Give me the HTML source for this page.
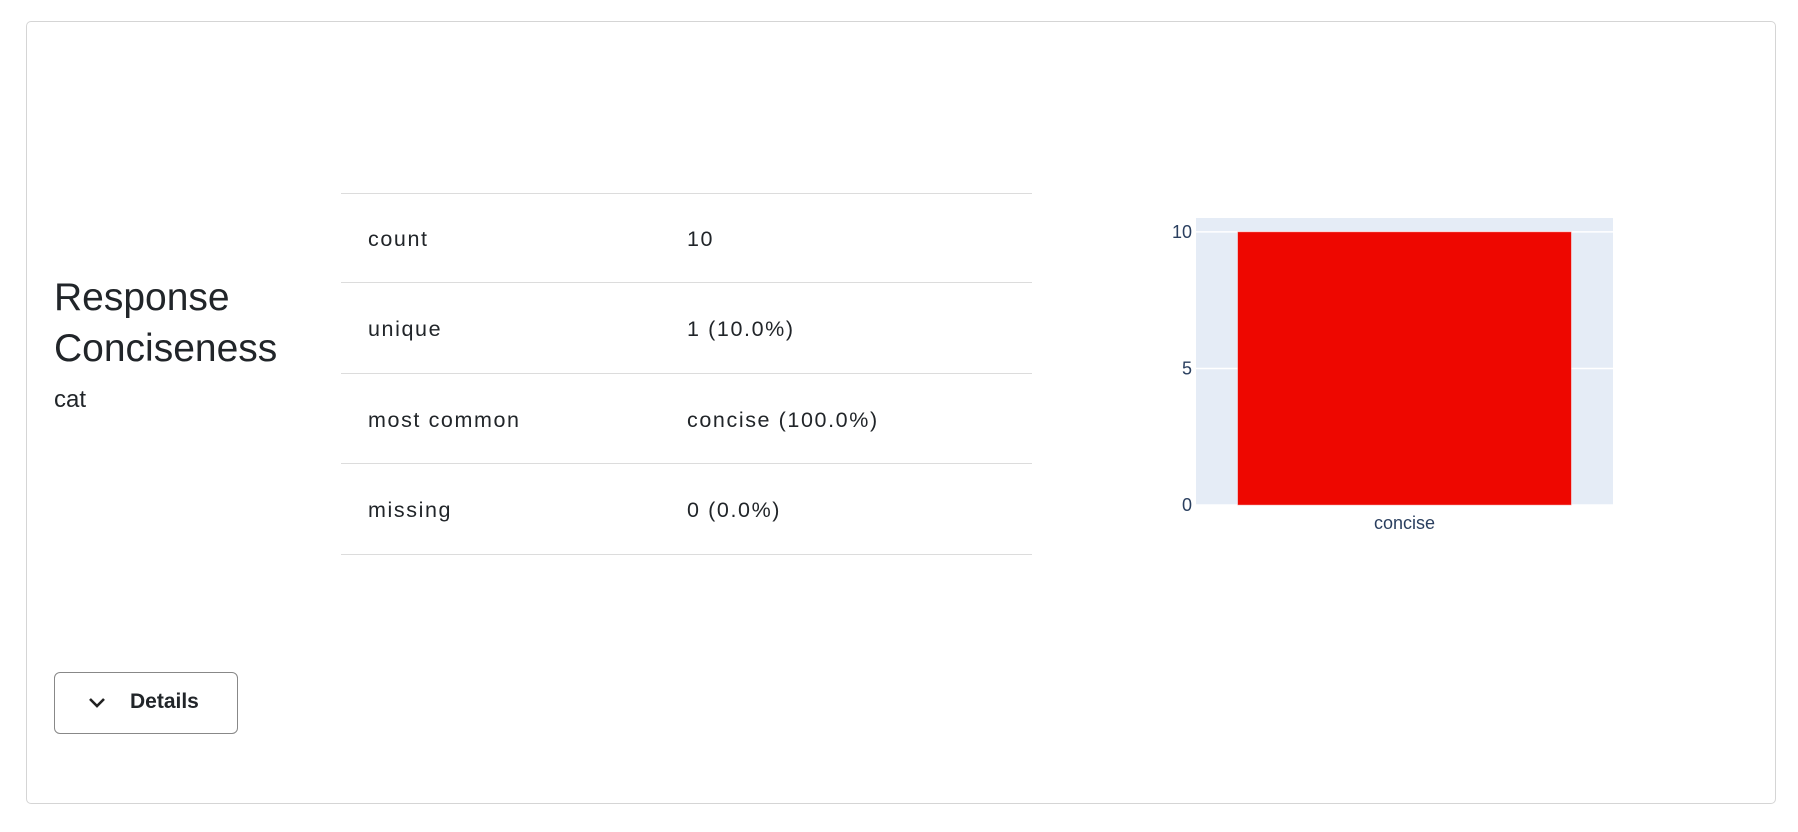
<!DOCTYPE html>
<html><head><meta charset="utf-8"><style>
body{margin:0;width:1798px;height:832px;background:#fff;font-family:"Liberation Sans",sans-serif;color:#212529;position:relative;overflow:hidden}
.card{position:absolute;left:26px;top:21px;width:1750px;height:783px;border:1px solid #d5d5d5;border-radius:5px;box-sizing:border-box}
.abs{position:absolute;white-space:nowrap}
.line{position:absolute;left:341px;width:691px;height:1px;background:#dcdcdc}
.cell{position:absolute;font-size:21.5px;letter-spacing:1.6px;white-space:nowrap}
.btn{position:absolute;left:54px;top:672px;width:184px;height:62px;border:1.5px solid #888;border-radius:6px;box-sizing:border-box;background:#fff}
</style></head><body>
<div class="card"></div>
<div class="abs" style="left:54px;top:272px;font-size:39px;line-height:51px">Response<br>Conciseness</div>
<div class="abs" style="left:54px;top:386px;font-size:24px">cat</div>

<div>
<div class="line" style="top:193px"></div>
<div class="line" style="top:282px"></div>
<div class="line" style="top:373px"></div>
<div class="line" style="top:463px"></div>
<div class="line" style="top:554px"></div>
<div class="cell" style="left:368px;top:227px">count</div>
<div class="cell" style="left:687px;top:227px">10</div>
<div class="cell" style="left:368px;top:317px">unique</div>
<div class="cell" style="left:687px;top:317px">1 (10.0%)</div>
<div class="cell" style="left:368px;top:408px">most common</div>
<div class="cell" style="left:687px;top:408px">concise (100.0%)</div>
<div class="cell" style="left:368px;top:498px">missing</div>
<div class="cell" style="left:687px;top:498px">0 (0.0%)</div>
</div>

<div class="btn">
<svg style="position:absolute;left:33px;top:24px" width="18" height="12" viewBox="0 0 18 12"><path d="M2 2 L9 9 L16 2" fill="none" stroke="#222" stroke-width="2.6"/></svg>
<span style="position:absolute;left:75px;top:17px;font-size:21px;font-weight:bold">Details</span>
</div>

<svg id="chart" style="position:absolute;left:0;top:0" width="1798" height="832"></svg>
<script>
const categories=["concise"];
const counts=[10];
const yTicks=[0,5,10];
const NS="http://www.w3.org/2000/svg";
const svg=document.getElementById('chart');
const L=1196,R=1613,T=218,B=505,yMax=10.51;
const y=v=>B-(v/yMax)*(B-T);
const bw=(R-L)/categories.length;
const x=i=>L+bw*i;
function mk(t,a){const e=document.createElementNS(NS,t);for(const k in a)e.setAttribute(k,a[k]);svg.appendChild(e);return e;}
const bg=mk('rect',{x:L,y:T,width:R-L,height:B-T,fill:'#e5ecf6'});


yTicks.forEach(t=>{
 const g=mk('line',{x1:L,x2:R,y1:y(t),y2:y(t),stroke:'#fff','stroke-width':1.5});
 
 
 const tx=mk('text',{x:L-4,y:y(t)+6,'text-anchor':'end','font-size':18,fill:'#2a3f5f','font-family':'Liberation Sans, sans-serif'});
 tx.textContent=t;
 
 
});
categories.forEach((c,i)=>{
 const x0=x(i)+bw*0.1, w=bw*0.8;
 const r=mk('rect',{x:x0,y:y(counts[i]),width:w,height:y(0)-y(counts[i]),fill:'#ee0700',stroke:'#f4a0a0','stroke-width':0.5});
 
 
 const tx=mk('text',{x:x(i)+bw/2,y:B+24,'text-anchor':'middle','font-size':18,fill:'#2a3f5f','font-family':'Liberation Sans, sans-serif'});
 tx.textContent=c;
 
 
});
</script>
</body></html>
